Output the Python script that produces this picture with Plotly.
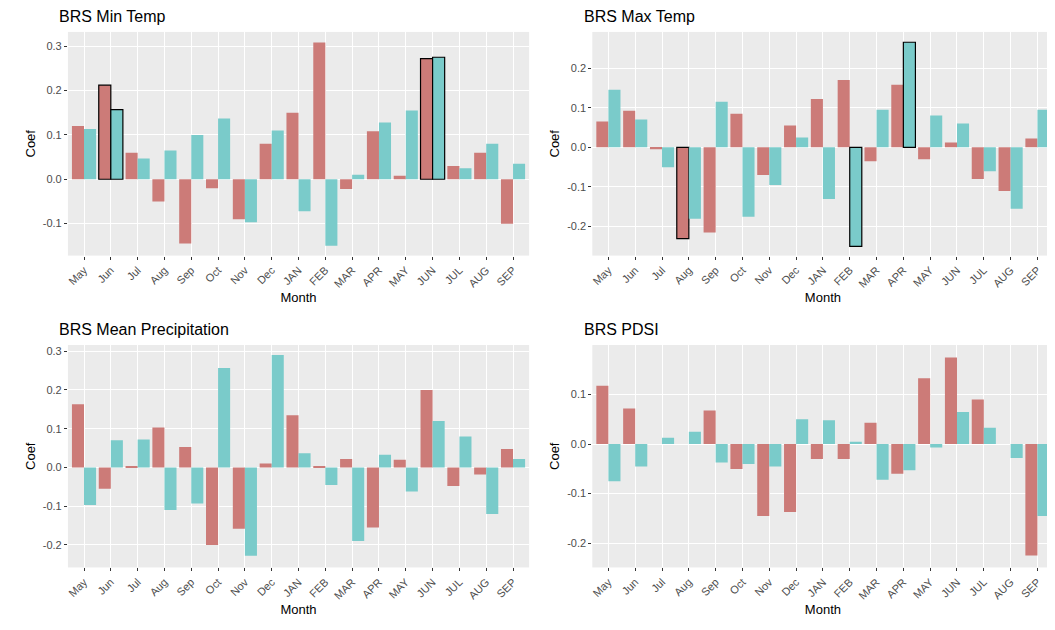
import plotly.graph_objects as go

months = ["May", "Jun", "Jul", "Aug", "Sep", "Oct", "Nov", "Dec", "JAN", "FEB",
          "MAR", "APR", "MAY", "JUN", "JUL", "AUG", "SEP"]

tmin_a = [0.12, 0.212, 0.06, -0.05, -0.145, -0.02, -0.09, 0.08, 0.15, 0.308, -0.022, 0.108, 0.008, 0.272, 0.03, 0.06, -0.1]
tmin_b = [0.113, 0.157, 0.047, 0.065, 0.10, 0.137, -0.097, 0.11, -0.072, -0.15, 0.01, 0.128, 0.155, 0.275, 0.025, 0.08, 0.035]
tmax_a = [0.065, 0.092, -0.005, -0.23, -0.215, 0.085, -0.07, 0.055, 0.122, 0.17, -0.035, 0.158, -0.03, 0.012, -0.08, -0.11, 0.022]
tmax_b = [0.145, 0.07, -0.05, -0.18, 0.115, -0.175, -0.095, 0.025, -0.13, -0.25, 0.095, 0.265, 0.08, 0.06, -0.06, -0.155, 0.095]
prec_a = [0.163, -0.055, 0.003, 0.103, 0.053, -0.2, -0.158, 0.01, 0.135, 0.003, 0.022, -0.155, 0.02, 0.2, -0.048, -0.018, 0.048]
prec_b = [-0.097, 0.07, 0.072, -0.11, -0.093, 0.257, -0.228, 0.29, 0.037, -0.045, -0.19, 0.033, -0.062, 0.12, 0.08, -0.12, 0.022]
pdsi_a = [0.118, 0.072, 0.0, 0.0, 0.068, -0.05, -0.145, -0.137, -0.03, -0.03, 0.043, -0.06, 0.133, 0.175, 0.09, 0.0, -0.225]
pdsi_b = [-0.075, -0.045, 0.013, 0.025, -0.037, -0.04, -0.045, 0.05, 0.048, 0.005, -0.072, -0.053, -0.007, 0.065, 0.033, -0.028, -0.145]

# outlined (significant) bars: index lists per series
sig = {
    "tmin": ([1, 13], [1, 13]),
    "tmax": ([3], [9, 11]),
    "prec": ([], []),
    "pdsi": ([], []),
}

panels = [
    ("BRS Min Temp", "tmin", tmin_a, tmin_b, [-0.172, 0.332], [-0.1, 0, 0.1, 0.2, 0.3]),
    ("BRS Max Temp", "tmax", tmax_a, tmax_b, [-0.273, 0.291], [-0.2, -0.1, 0, 0.1, 0.2]),
    ("BRS Mean Precipitation", "prec", prec_a, prec_b, [-0.258, 0.316], [-0.2, -0.1, 0, 0.1, 0.2, 0.3]),
    ("BRS PDSI", "pdsi", pdsi_a, pdsi_b, [-0.249, 0.2], [-0.2, -0.1, 0, 0.1]),
]

xdom = [[0.055, 0.493], [0.553, 0.991]]
ydom = [[0.607, 0.962], [0.112, 0.465]]
red, teal = "#CC7B78", "#7ACBCA"

fig = go.Figure()
layout = dict(barmode="group", bargap=0.1, bargroupgap=0, showlegend=False,
              plot_bgcolor="#EBEBEB", paper_bgcolor="white",
              width=1055, height=630, margin=dict(l=0, r=0, t=0, b=0),
              font=dict(family="Liberation Sans, Arial", size=11, color="#4D4D4D"),
              annotations=[])

for i, (title, key, a, b, yr, ticks) in enumerate(panels):
    n = i + 1
    xa, ya = ("x" if n == 1 else f"x{n}"), ("y" if n == 1 else f"y{n}")
    for vals, col, s in ((a, red, sig[key][0]), (b, teal, sig[key][1])):
        fig.add_trace(go.Bar(x=months, y=vals, xaxis=xa, yaxis=ya,
                             marker=dict(color=col,
                                         line=dict(color="black", width=[1.2 if j in s else 0 for j in range(17)]))))
    xd, yd = xdom[i % 2], ydom[i // 2]
    layout[f"xaxis{'' if n == 1 else n}"] = dict(
        domain=xd, anchor=ya, tickangle=-45, showgrid=True, gridcolor="white",
        range=[-0.6, 16.6],
        ticks="outside", ticklen=3, tickcolor="#333", tickfont=dict(size=11, color="#4D4D4D"),
        title=dict(text="Month", font=dict(size=13, color="black"), standoff=4))
    layout[f"yaxis{'' if n == 1 else n}"] = dict(
        domain=yd, anchor=xa, range=yr, tickvals=ticks,
        ticktext=[f"{t:.1f}" for t in ticks], gridcolor="white", zeroline=False,
        ticks="outside", ticklen=3, tickcolor="#333",
        title=dict(text="Coef", font=dict(size=13, color="black"), standoff=4))
    layout["annotations"].append(dict(text=title, x=xd[0] - 0.01, y=yd[1] + 0.008, xref="paper", yref="paper",
                                      xanchor="left", yanchor="bottom", showarrow=False,
                                      font=dict(size=16, color="black")))

fig.update_layout(**layout)
fig.write_html("out.html")
